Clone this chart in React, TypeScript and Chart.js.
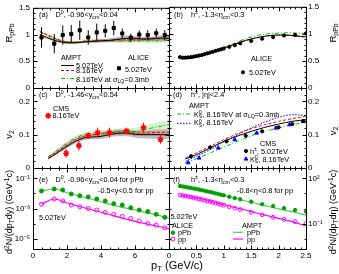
import React, { useEffect, useRef } from "react";
import { Chart, registerables } from "chart.js";
import { drawPoint } from "chart.js/helpers";

Chart.register(...registerables);

const W = 339;
const H = 274;
const FONT = "'Liberation Sans', Arial, Helvetica, sans-serif";

const GREEN = "#00a000";
const LGREEN = "#55c855";
const DGREEN = "#00c000";
const RED = "#ff0000";
const BLUE = "#0000ff";
const MAGENTA = "#ff00ff";

// ===== (a) D0 R_pPb vs pT =====
const aPt = [0.5, 1.25, 1.75, 2.25, 2.75, 3.25, 3.75, 4.25, 4.75, 5.25, 5.75, 6.25, 6.75, 7.25, 7.75];
const aAliceR = [0.945, 0.83, 0.99, 1.01, 1.08, 0.945, 1.04, 1.07, 1.12, 1.02, 0.94, 1.0, 0.99, 1.025, 0.99];
const aAliceErr = [0.19, 0.18, 0.18, 0.17, 0.18, 0.135, 0.165, 0.12, 0.135, 0.09, 0.075, 0.075, 0.09, 0.085, 0.09];
const aAmptPt = [0.4, 1, 1.5, 2, 2.5, 3, 3.5, 4, 4.5, 5, 5.5, 6, 6.5, 7, 7.5, 8];
const aAmpt502 = [1.0, 0.92, 0.87, 0.845, 0.845, 0.86, 0.87, 0.88, 0.89, 0.91, 0.93, 0.93, 0.915, 0.92, 0.935, 0.93];
const aAmpt502Err = [0.02, 0.02, 0.02, 0.02, 0.02, 0.02, 0.025, 0.03, 0.035, 0.045, 0.05, 0.045, 0.04, 0.04, 0.045, 0.04];
const aAmpt816 = [1.06, 0.97, 0.9, 0.86, 0.855, 0.87, 0.88, 0.885, 0.89, 0.9, 0.9, 0.9, 0.91, 0.92, 0.92, 0.93];
const aAmpt816Err = [0.02, 0.02, 0.02, 0.02, 0.02, 0.025, 0.025, 0.03, 0.03, 0.035, 0.035, 0.035, 0.04, 0.04, 0.04, 0.04];
const aAmpt816s = [1.05, 0.96, 0.9, 0.865, 0.86, 0.875, 0.885, 0.89, 0.885, 0.88, 0.875, 0.88, 0.885, 0.88, 0.88, 0.89];
const aAmpt816sErr = [0.02, 0.02, 0.02, 0.02, 0.02, 0.025, 0.025, 0.03, 0.03, 0.035, 0.035, 0.035, 0.04, 0.04, 0.04, 0.04];

// ===== (b) h+- R_pPb vs pT =====
const bPt = [0.2, 0.25, 0.3, 0.35, 0.4, 0.45, 0.5, 0.55, 0.6, 0.65, 0.7, 0.75, 0.8, 0.85, 0.9, 0.95, 1.0, 1.1, 1.2, 1.3, 1.5, 1.7, 1.9, 2.1, 2.3, 2.5];
const bAliceR = [0.57, 0.56, 0.56, 0.565, 0.57, 0.58, 0.59, 0.6, 0.61, 0.625, 0.64, 0.655, 0.67, 0.685, 0.7, 0.715, 0.73, 0.76, 0.79, 0.826, 0.868, 0.91, 0.94, 0.97, 0.98, 1.01];
const bAmptPt = [0.2, 0.3, 0.4, 0.6, 0.8, 1.0, 1.2, 1.4, 1.6, 1.8, 2.0, 2.2, 2.4, 2.5];
const bAmpt502 = [0.55, 0.545, 0.55, 0.6, 0.665, 0.735, 0.81, 0.88, 0.93, 0.965, 0.98, 0.975, 0.955, 0.945];
const bAmpt816 = [0.54, 0.54, 0.545, 0.595, 0.66, 0.73, 0.805, 0.875, 0.925, 0.96, 0.975, 0.97, 0.95, 0.94];
const bAmpt816s = [0.55, 0.545, 0.55, 0.6, 0.67, 0.745, 0.83, 0.91, 0.97, 1.0, 1.015, 1.02, 1.01, 1.0];

// ===== (c) D0 v2 vs pT =====
const cPt = [1.95, 2.7, 3.25, 3.8, 4.5, 5.5, 6.5, 7.5];
const cCmsV2 = [0.044, 0.067, 0.097, 0.106, 0.106, 0.111, 0.121, 0.086];
const cCmsErr = [0.013, 0.015, 0.01, 0.015, 0.015, 0.01, 0.015, 0.013];
const cAmptPt = [0.9, 1.5, 2, 2.5, 3, 3.5, 4, 4.5, 5, 5.5, 6, 6.5, 7, 7.5, 8];
const cAmpt502 = [0.028, 0.048, 0.065, 0.08, 0.09, 0.093, 0.095, 0.1, 0.104, 0.105, 0.101, 0.1, 0.1, 0.1, 0.1];
const cAmpt502Err = [0.003, 0.004, 0.005, 0.006, 0.007, 0.007, 0.008, 0.008, 0.009, 0.01, 0.01, 0.011, 0.012, 0.012, 0.013];
const cAmpt816 = [0.032, 0.052, 0.07, 0.085, 0.095, 0.1, 0.103, 0.105, 0.108, 0.108, 0.105, 0.105, 0.106, 0.107, 0.107];
const cAmpt816Err = [0.003, 0.004, 0.005, 0.005, 0.006, 0.006, 0.007, 0.007, 0.008, 0.008, 0.008, 0.009, 0.009, 0.01, 0.01];
const cAmpt816s = [0.034, 0.056, 0.075, 0.09, 0.1, 0.104, 0.106, 0.108, 0.11, 0.11, 0.11, 0.115, 0.12, 0.125, 0.13];
const cAmpt816sErr = [0.003, 0.004, 0.005, 0.006, 0.006, 0.007, 0.007, 0.008, 0.009, 0.01, 0.011, 0.012, 0.013, 0.014, 0.015];

// ===== (d) h+- / K0s v2 vs pT =====
const dHPt = [0.4, 0.75, 1.05, 1.4, 1.7, 2.0, 2.25, 2.45];
const dHV2 = [0.035, 0.062, 0.08, 0.097, 0.11, 0.122, 0.132, 0.141];
const dKPt = [0.35, 0.55, 0.9, 1.2, 1.6, 1.95, 2.2, 2.45];
const dKV2 = [0.016, 0.03, 0.06, 0.085, 0.105, 0.12, 0.13, 0.14];
const dAmptPt = [0.3, 0.5, 0.75, 1, 1.25, 1.5, 1.75, 2, 2.25, 2.5];
const dAmptH816 = [0.03, 0.045, 0.065, 0.085, 0.103, 0.118, 0.13, 0.14, 0.148, 0.155];
const dAmptH502 = [0.027, 0.04, 0.06, 0.08, 0.096, 0.11, 0.122, 0.132, 0.14, 0.145];
const dAmptK816 = [0.02, 0.035, 0.055, 0.078, 0.1, 0.12, 0.138, 0.152, 0.16, 0.157];
const dAmptK816s = [0.015, 0.028, 0.045, 0.063, 0.08, 0.097, 0.11, 0.12, 0.13, 0.137];

// ===== (e) D0 spectra =====
const ePt = [0.5, 1.25, 1.75, 2.25, 2.75, 3.25, 3.75, 4.25, 4.75, 5.25, 5.75, 6.25, 6.75, 7.25, 7.75];
const ePPb = [0.0148, 0.02, 0.017, 0.0093, 0.0071, 0.0059, 0.0043, 0.0032, 0.0021, 0.0017, 0.00112, 0.00079, 0.00062, 0.00041, 0.00026];
const ePP = [0.0019, 0.0043, 0.0032, 0.0017, 0.0013, 0.001, 0.00079, 0.00055, 0.00041, 0.0003, 0.00022, 0.000148, 0.0001, 0.000079, 0.000052];
const eAmptPt = [0.5, 1.25, 2, 3, 4, 5, 6, 7, 8];
const eAmptPPb = [0.0151, 0.02, 0.0112, 0.0056, 0.0028, 0.0014, 0.00079, 0.00045, 0.00022];
const eAmptPP = [0.0019, 0.0043, 0.0024, 0.00112, 0.00056, 0.00028, 0.00014, 0.000079, 0.000045];

// ===== (f) h+- spectra =====
const fPt = [0.2, 0.25, 0.3, 0.35, 0.4, 0.45, 0.5, 0.55, 0.6, 0.65, 0.7, 0.75, 0.8, 0.85, 0.9, 0.95, 1.0, 1.1, 1.2, 1.3, 1.5, 1.7, 1.9, 2.1, 2.3, 2.5];
const fPPb = [31.6, 29.5, 27.5, 25.1, 23.4, 21.4, 20.0, 18.2, 16.6, 15.1, 13.8, 12.6, 11.5, 10.2, 9.3, 8.3, 7.6, 6.0, 4.9, 4.1, 2.8, 1.95, 1.45, 1.05, 0.79, 0.63];
const fPP = [7.9, 7.4, 6.9, 6.3, 5.75, 5.25, 4.8, 4.4, 4.0, 3.55, 3.2, 2.9, 2.6, 2.35, 2.1, 1.86, 1.66, 1.32, 1.05, 0.85, 0.56, 0.38, 0.26, 0.19, 0.135, 0.1];
const fAmptPt = [0.2, 0.4, 0.6, 0.8, 1.0, 1.2, 1.4, 1.6, 1.8, 2.0, 2.2, 2.5];
const fAmptPPb = [30.2, 22.9, 16.6, 11.5, 7.6, 5.0, 3.16, 2.1, 1.41, 0.95, 0.66, 0.355];
const fAmptPP = [7.9, 6.0, 4.3, 2.8, 1.78, 1.17, 0.79, 0.5, 0.33, 0.22, 0.15, 0.068];

// ===== tick label lists =====
const leftXLabels = [0, 2, 4, 6];
const rightXLabels = [0, 0.5, 1, 1.5, 2, 2.5];
const rYLabels = [0, 0.5, 1, 1.5];
const vYLabels = [0, 0.1, 0.2];
const eYLabels = [1e-5, 1e-3, 1e-1];
const fYLabels = [1e-1, 1e2];

// ---------- helpers ----------
function steps(a: number, b: number, s: number) {
  const out: number[] = [];
  for (let v = a; v <= b + 1e-9; v += s) out.push(Math.round(v * 1e6) / 1e6);
  return out;
}
const fmtNum = (v: number) => String(Math.round(v * 1000) / 1000);
const SUP: Record<string, string> = { "-": "\u207B", "0": "\u2070", "1": "\u00B9", "2": "\u00B2", "3": "\u00B3", "4": "\u2074", "5": "\u2075", "6": "\u2076", "7": "\u2077", "8": "\u2078", "9": "\u2079" };
const fmtPow = (v: number) => "10" + String(Math.round(Math.log10(v))).split("").map((c) => SUP[c]).join("");

const P = (xs: number[], ys: (number | null)[]) => xs.map((x, i) => ({ x, y: ys[i] }));

function curve(xs: number[], ys: number[], color: string, dash: number[] = [], width = 1) {
  return { data: P(xs, ys), borderColor: color, borderWidth: width, borderDash: dash, pointRadius: 0, fill: false, cubicInterpolationMode: "monotone" };
}
function band(xs: number[], ys: number[], es: number[], color: string) {
  return [
    { data: P(xs, ys.map((y, i) => y - es[i])), borderWidth: 0, borderColor: "rgba(0,0,0,0)", pointRadius: 0, fill: false, cubicInterpolationMode: "monotone" },
    { data: P(xs, ys.map((y, i) => y + es[i])), borderWidth: 0, borderColor: "rgba(0,0,0,0)", pointRadius: 0, fill: "-1", backgroundColor: color, cubicInterpolationMode: "monotone" },
  ];
}
function markers(xs: number[], ys: number[], style: string, r: number, color: string, filled = true, bw = 1) {
  return { data: P(xs, ys), showLine: false, pointStyle: style, pointRadius: r, pointBackgroundColor: filled ? color : "rgba(0,0,0,0)", pointBorderColor: color, pointBorderWidth: bw };
}
function errBars(xs: number[], ys: number[], es: number[], color: string) {
  const d: any[] = [];
  xs.forEach((x, i) => {
    d.push({ x, y: ys[i] - es[i] }, { x, y: ys[i] + es[i] }, { x, y: null });
  });
  return { data: d, borderColor: color, borderWidth: 1, pointRadius: 0, fill: false, spanGaps: false };
}

// rich text: _{sub} ^{sup}
type Seg = { t: string; m: number };
function parseRich(s: string): Seg[] {
  const out: Seg[] = [];
  let i = 0;
  let buf = "";
  while (i < s.length) {
    const c = s[i];
    if ((c === "_" || c === "^") && s[i + 1] === "{") {
      if (buf) { out.push({ t: buf, m: 0 }); buf = ""; }
      const end = s.indexOf("}", i + 2);
      out.push({ t: s.slice(i + 2, end), m: c === "_" ? 1 : 2 });
      i = end + 1;
    } else { buf += c; i++; }
  }
  if (buf) out.push({ t: buf, m: 0 });
  return out;
}
function txt(ctx: CanvasRenderingContext2D, s: string, x: number, y: number, size = 7.3, opts: { align?: string; rotate?: boolean; color?: string } = {}) {
  const segs = parseRich(s);
  ctx.save();
  const items: { t: string; m: number; x: number; fs: number }[] = [];
  let cx = 0, prevScript = false, sStart = 0, sMax = 0;
  for (const sg of segs) {
    const fs = sg.m ? size * 0.72 : size;
    ctx.font = `${fs}px ${FONT}`;
    const w = ctx.measureText(sg.t).width;
    if (sg.m) {
      if (prevScript) {
        items.push({ ...sg, x: sStart, fs });
        sMax = Math.max(sMax, w);
        cx = sStart + sMax;
      } else {
        sStart = cx; sMax = w;
        items.push({ ...sg, x: cx, fs });
        cx += w;
      }
      prevScript = true;
    } else {
      items.push({ ...sg, x: cx, fs });
      cx += w;
      prevScript = false;
    }
  }
  ctx.translate(x, y);
  if (opts.rotate) ctx.rotate(-Math.PI / 2);
  const ox = opts.align === "center" ? -cx / 2 : opts.align === "right" ? -cx : 0;
  ctx.fillStyle = opts.color || "#000";
  ctx.textAlign = "left";
  ctx.textBaseline = "alphabetic";
  for (const it of items) {
    ctx.font = `${it.fs}px ${FONT}`;
    const dy = it.m === 1 ? size * 0.25 : it.m === 2 ? -size * 0.38 : 0;
    ctx.fillText(it.t, ox + it.x, dy);
  }
  ctx.restore();
}
function lineSample(ctx: CanvasRenderingContext2D, x0: number, x1: number, y: number, color: string, dash: number[] = [], width = 1) {
  ctx.save();
  ctx.strokeStyle = color;
  ctx.lineWidth = width;
  ctx.setLineDash(dash);
  ctx.beginPath();
  ctx.moveTo(x0, y);
  ctx.lineTo(x1, y);
  ctx.stroke();
  ctx.restore();
}
function mark(ctx: CanvasRenderingContext2D, style: string, x: number, y: number, r: number, color: string, filled = true, bw = 1) {
  ctx.save();
  ctx.fillStyle = filled ? color : "rgba(0,0,0,0)";
  ctx.strokeStyle = color;
  ctx.lineWidth = bw;
  drawPoint(ctx, { pointStyle: style as any, radius: r, rotation: 0, borderWidth: bw }, x, y);
  ctx.restore();
}

type Tick = { major: number[]; minor: number[] };
type PanelCfg = {
  x0: number; x1: number; y0: number; y1: number;
  side: "left" | "right";
  xMin: number; xMax: number; xLabels: number[] | null;
  yType: "linear" | "logarithmic"; yMin: number; yMax: number; yLabels: number[]; yFmt: (v: number) => string;
  xt: Tick; yt: Tick;
  datasets: any[];
  deco: (ctx: CanvasRenderingContext2D) => void;
};

const LX: Tick = { major: steps(0, 8, 2), minor: steps(0, 8, 0.5) };
const RX: Tick = { major: steps(0, 2.5, 0.5), minor: steps(0, 2.5, 0.1) };
const RY: Tick = { major: steps(0, 1.5, 0.5), minor: steps(0, 1.5, 0.1) };
const VY: Tick = { major: steps(0, 0.2, 0.1), minor: steps(0, 0.24, 0.02) };
const EY: Tick = { major: [1e-5, 1e-3, 1e-1], minor: [1e-4, 1e-2] };
const FY: Tick = { major: [1e-1, 1e2], minor: [1e-2, 1, 10] };

const XL = 33, XM = 169, XR = 306;
const Y0 = 5, Y1 = 88, Y2 = 168, Y3 = 249;

const PANELS: PanelCfg[] = [
  {
    x0: XL, x1: XM, y0: Y0, y1: Y1, side: "left",
    xMin: 0, xMax: 8, xLabels: null,
    yType: "linear", yMin: 0, yMax: 1.5, yLabels: rYLabels, yFmt: fmtNum,
    xt: LX, yt: RY,
    datasets: [
      markers(aPt, aAliceR, "rect", 2.2, "#000"),
      errBars(aPt, aAliceR, aAliceErr, "#000"),
      curve(aAmptPt, aAmpt502, "#000"),
      curve(aAmptPt, aAmpt816, RED, [3, 2]),
      curve(aAmptPt, aAmpt816s, DGREEN, [4, 2, 1, 2]),
      ...band(aAmptPt, aAmpt502, aAmpt502Err, "rgba(90,90,90,0.4)"),
      ...band(aAmptPt, aAmpt816, aAmpt816Err, "rgba(255,0,0,0.18)"),
      ...band(aAmptPt, aAmpt816s, aAmpt816sErr, "rgba(0,190,0,0.18)"),
    ],
    deco: (ctx) => {
      txt(ctx, "(a)", 39, 17);
      txt(ctx, "D^{0}, -0.96<y_{cm}<0.04", 55.5, 17);
      txt(ctx, "AMPT", 61, 60);
      lineSample(ctx, 61, 74, 65.5, "#000");
      txt(ctx, "5.02TeV", 76, 68.3);
      lineSample(ctx, 61, 74, 70.5, RED, [3, 2]);
      txt(ctx, "8.16TeV", 76, 73.3);
      lineSample(ctx, 61, 74, 78.5, DGREEN, [4, 2, 1, 2]);
      txt(ctx, "8.16TeV at \u03C3_{LQ}=0.3mb", 76, 81.5);
      txt(ctx, "ALICE", 128, 60);
      mark(ctx, "rect", 119, 68.3, 2.2, "#000");
      txt(ctx, "5.02TeV", 125, 71.5);
      txt(ctx, "R_{pPb}", 12, 33, 9.5, { rotate: true, align: "center" });
    },
  },
  {
    x0: XM, x1: XR, y0: Y0, y1: Y1, side: "right",
    xMin: 0, xMax: 2.5, xLabels: null,
    yType: "linear", yMin: 0, yMax: 1.5, yLabels: rYLabels, yFmt: fmtNum,
    xt: RX, yt: RY,
    datasets: [
      markers(bPt, bAliceR, "circle", 1.6, "#000"),
      curve(bAmptPt, bAmpt502, "#000"),
      curve(bAmptPt, bAmpt816, RED, [3, 2]),
      curve(bAmptPt, bAmpt816s, DGREEN, [4, 2, 1, 2]),
    ],
    deco: (ctx) => {
      txt(ctx, "(b)", 174, 17);
      txt(ctx, "h^{\u00B1}, -1.3<\u03B7_{cm}<0.3", 191, 17);
      txt(ctx, "ALICE", 251, 60.5);
      mark(ctx, "circle", 243, 72.3, 1.6, "#000");
      txt(ctx, "5.02TeV", 249, 75);
      txt(ctx, "R_{pPb}", 336, 33, 9.5, { rotate: true, align: "center" });
    },
  },
  {
    x0: XL, x1: XM, y0: Y1, y1: Y2, side: "left",
    xMin: 0, xMax: 8, xLabels: null,
    yType: "linear", yMin: 0, yMax: 0.24, yLabels: vYLabels, yFmt: fmtNum,
    xt: LX, yt: VY,
    datasets: [
      markers(cPt, cCmsV2, "star", 3, RED, true, 1.4),
      errBars(cPt, cCmsV2, cCmsErr, RED),
      curve(cAmptPt, cAmpt502, "#000"),
      curve(cAmptPt, cAmpt816, RED, [3, 2]),
      curve(cAmptPt, cAmpt816s, DGREEN, [4, 2, 1, 2]),
      ...band(cAmptPt, cAmpt502, cAmpt502Err, "rgba(90,90,90,0.4)"),
      ...band(cAmptPt, cAmpt816, cAmpt816Err, "rgba(255,0,0,0.18)"),
      ...band(cAmptPt, cAmpt816s, cAmpt816sErr, "rgba(0,190,0,0.18)"),
    ],
    deco: (ctx) => {
      txt(ctx, "(c)", 39, 97);
      txt(ctx, "D^{0}, -1.46<y_{cm}<0.54", 55.5, 97);
      txt(ctx, "CMS", 53, 110.7);
      mark(ctx, "star", 48.3, 115.7, 3, RED, true, 1.4);
      txt(ctx, "8.16TeV", 52.5, 118.3);
      txt(ctx, "v_{2}", 12, 134.5, 9.5, { rotate: true, align: "center" });
    },
  },
  {
    x0: XM, x1: XR, y0: Y1, y1: Y2, side: "right",
    xMin: 0, xMax: 2.5, xLabels: null,
    yType: "linear", yMin: 0, yMax: 0.24, yLabels: vYLabels, yFmt: fmtNum,
    xt: RX, yt: VY,
    datasets: [
      markers(dHPt, dHV2, "circle", 1.6, "#000"),
      markers(dKPt, dKV2, "triangle", 2.2, BLUE),
      curve(dAmptPt, dAmptH502, "#000"),
      curve(dAmptPt, dAmptH816, RED, [3, 2]),
      curve(dAmptPt, dAmptK816, BLUE, [1.5, 1.5]),
      curve(dAmptPt, dAmptK816s, DGREEN, [4, 2, 1, 2]),
    ],
    deco: (ctx) => {
      txt(ctx, "(d)", 173, 97);
      txt(ctx, "h^{\u00B1}, |\u03B7|<2.4", 191, 97);
      txt(ctx, "AMPT", 189, 108.3);
      lineSample(ctx, 177, 192, 114, DGREEN, [4, 2, 1, 2]);
      txt(ctx, "K^{0}_{S}, 8.16TeV at \u03C3_{LQ}=0.3mb", 194, 116.5);
      lineSample(ctx, 177, 192, 123.3, BLUE, [1.5, 1.5]);
      txt(ctx, "K^{0}_{S}, 8.16TeV", 194, 125.3);
      txt(ctx, "CMS", 260, 146);
      mark(ctx, "circle", 246, 151, 1.6, "#000");
      txt(ctx, "h^{\u00B1}, 5.02TeV", 250, 153.5);
      mark(ctx, "triangle", 246, 159, 2.2, BLUE);
      txt(ctx, "K^{0}_{S}, 8.16TeV", 250, 161.5);
      txt(ctx, "v_{2}", 336, 131, 9.5, { rotate: true, align: "center" });
    },
  },
  {
    x0: XL, x1: XM, y0: Y2, y1: Y3, side: "left",
    xMin: 0, xMax: 8, xLabels: leftXLabels,
    yType: "logarithmic", yMin: 2e-6, yMax: 0.5, yLabels: eYLabels, yFmt: fmtPow,
    xt: LX, yt: EY,
    datasets: [
      markers(ePt, ePPb, "circle", 2, GREEN),
      markers(ePt, ePP, "circle", 2, MAGENTA, false, 1),
      curve(eAmptPt, eAmptPPb, LGREEN, [], 1.2),
      curve(eAmptPt, eAmptPP, MAGENTA, [], 1.2),
    ],
    deco: (ctx) => {
      txt(ctx, "(e)", 39, 182);
      txt(ctx, "D^{0}, -0.96<y_{cm}<0.04 for pPb", 55.5, 182);
      txt(ctx, "-0.5<y<0.5 for pp", 98, 193.3);
      txt(ctx, "5.02TeV", 39, 220);
      txt(ctx, "d^{2}N/(dp_{T}dy) (GeV^{-1}c)", 12, 212, 9, { rotate: true, align: "center" });
      txt(ctx, "p_{T} (GeV/c)", 177, 268.5, 11, { align: "center" });
    },
  },
  {
    x0: XM, x1: XR, y0: Y2, y1: Y3, side: "right",
    xMin: 0, xMax: 2.5, xLabels: rightXLabels,
    yType: "logarithmic", yMin: 2e-3, yMax: 500, yLabels: fYLabels, yFmt: fmtPow,
    xt: RX, yt: FY,
    datasets: [
      markers(fPt, fPPb, "circle", 1.7, GREEN),
      markers(fPt, fPP, "circle", 1.9, MAGENTA, false, 1),
      curve(fAmptPt, fAmptPPb, LGREEN, [], 1.2),
      curve(fAmptPt, fAmptPP, MAGENTA, [], 1.2),
    ],
    deco: (ctx) => {
      txt(ctx, "(f)", 173, 182);
      txt(ctx, "h^{\u00B1}, -1.3<\u03B7_{cm}<0.3", 191, 182);
      txt(ctx, "-0.8<\u03B7<0.8 for pp", 237, 193.3);
      txt(ctx, "5.02TeV", 170.5, 219);
      txt(ctx, "ALICE", 172, 228.3);
      mark(ctx, "circle", 173, 232.7, 1.7, GREEN);
      txt(ctx, "pPb", 178, 235);
      mark(ctx, "circle", 173, 239, 1.9, MAGENTA, false, 1);
      txt(ctx, "pp", 178, 241.7);
      txt(ctx, "AMPT", 242, 228.3);
      lineSample(ctx, 233, 243, 232.3, LGREEN, [], 1.2);
      txt(ctx, "pPb", 247, 235);
      lineSample(ctx, 233, 243, 239, MAGENTA, [], 1.2);
      txt(ctx, "pp", 247, 241.7);
      txt(ctx, "d^{2}N/(dp_{T}d\u03B7) (GeV^{-1}c)", 336, 212, 9, { rotate: true, align: "center" });
    },
  },
];

function drawFrameTicks(chart: any, p: PanelCfg) {
  const { ctx, chartArea: a } = chart;
  const xs = chart.scales.x;
  const ys = chart.scales.y;
  ctx.save();
  ctx.strokeStyle = "#000";
  ctx.lineWidth = 1;
  ctx.setLineDash([]);
  ctx.beginPath();
  const b = a.bottom + 0.5, t = a.top + 0.5, l = a.left + 0.5, r = a.right + 0.5;
  const xt: [number[], number][] = [[p.xt.major, 4], [p.xt.minor, 2]];
  for (const [vals, len] of xt) {
    for (const v of vals) {
      const px = Math.round(xs.getPixelForValue(v)) + 0.5;
      ctx.moveTo(px, b); ctx.lineTo(px, b - len);
      ctx.moveTo(px, t); ctx.lineTo(px, t + len);
    }
  }
  const yt: [number[], number][] = [[p.yt.major, 4], [p.yt.minor, 2]];
  for (const [vals, len] of yt) {
    for (const v of vals) {
      const py = Math.round(ys.getPixelForValue(v)) + 0.5;
      ctx.moveTo(l, py); ctx.lineTo(l + len, py);
      ctx.moveTo(r, py); ctx.lineTo(r - len, py);
    }
  }
  ctx.stroke();
  ctx.strokeRect(l, t, a.right - a.left, a.bottom - a.top);
  ctx.restore();
}

function buildConfig(p: PanelCfg): any {
  const isLeft = p.side === "left";
  const showX = p.xLabels !== null;
  const tickFont = { family: FONT, size: 8 };
  return {
    type: "line",
    data: { datasets: p.datasets },
    options: {
      animation: false,
      responsive: false,
      devicePixelRatio: 1,
      events: [],
      layout: {
        padding: {
          left: isLeft ? 0 : p.x0,
          right: isLeft ? W - p.x1 : 0,
          top: p.y0,
          bottom: showX ? 0 : H - p.y1,
        },
      },
      elements: { point: { radius: 0 }, line: { borderWidth: 1 } },
      plugins: { legend: { display: false }, tooltip: { enabled: false }, title: { display: false } },
      scales: {
        x: {
          type: "linear",
          min: p.xMin,
          max: p.xMax,
          display: showX,
          grid: { display: false, drawTicks: false },
          border: { display: false },
          ticks: { font: tickFont, color: "#000", padding: 2, maxRotation: 0, autoSkip: false, callback: (v: number) => fmtNum(v) },
          afterBuildTicks: (s: any) => { s.ticks = (p.xLabels || []).map((v) => ({ value: v })); },
          afterFit: (s: any) => { s.height = showX ? H - p.y1 : 0; },
        },
        y: {
          type: p.yType,
          position: p.side,
          min: p.yMin,
          max: p.yMax,
          grid: { display: false, drawTicks: false },
          border: { display: false },
          ticks: { font: tickFont, color: "#000", padding: isLeft ? 3 : 2, autoSkip: false, callback: (v: number) => p.yFmt(v) },
          afterBuildTicks: (s: any) => { s.ticks = p.yLabels.map((v) => ({ value: v })); },
          afterFit: (s: any) => { s.width = isLeft ? p.x0 : W - p.x1; },
        },
      },
    },
    plugins: [
      {
        id: "deco",
        afterDraw: (chart: any) => {
          drawFrameTicks(chart, p);
          p.deco(chart.ctx);
        },
      },
    ],
  };
}

function Panel({ cfg }: { cfg: PanelCfg }) {
  const ref = useRef<HTMLCanvasElement>(null);
  useEffect(() => {
    const chart = new Chart(ref.current as HTMLCanvasElement, buildConfig(cfg));
    return () => chart.destroy();
  }, [cfg]);
  return <canvas ref={ref} width={W} height={H} style={{ position: "absolute", left: 0, top: 0, width: W, height: H }} />;
}

export default function App() {
  return (
    <div style={{ position: "fixed", left: 0, top: 0, width: W, height: H, background: "#fff", overflow: "hidden" }}>
      {PANELS.map((p, i) => (
        <Panel key={i} cfg={p} />
      ))}
    </div>
  );
}
